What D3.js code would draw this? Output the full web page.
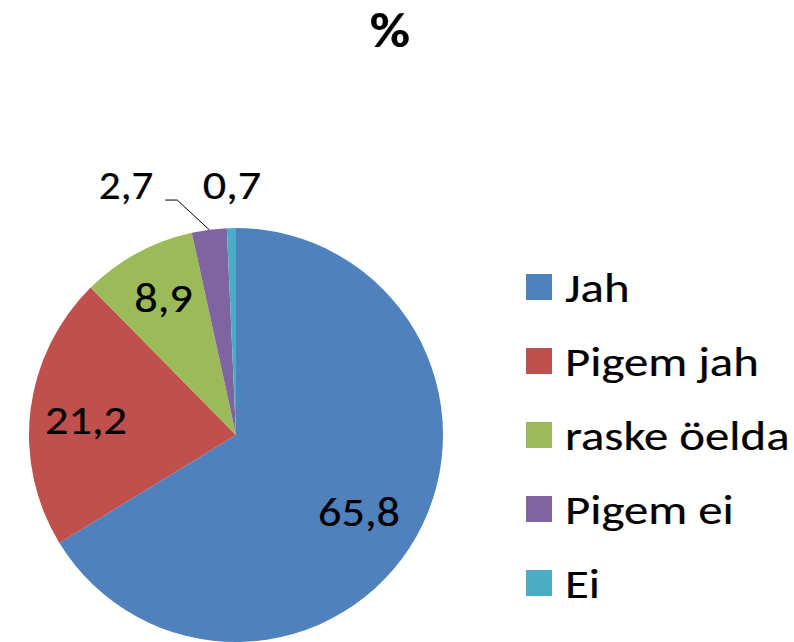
<!DOCTYPE html>
<html>
<head>
<meta charset="utf-8">
<script src="https://cdn.jsdelivr.net/npm/d3@7"></script>
<style>
  html, body { margin: 0; padding: 0; background: #fff; }
  svg text { font-family: Carlito, Calibri, Lato, sans-serif; fill: #000; stroke: #000; stroke-width: 0.2px; }
</style>
</head>
<body>
<figure id="pie" style="margin:0"></figure>
<script>
// chart data
const categories = ["Jah", "Pigem jah", "raske öelda", "Pigem ei", "Ei"];
const values = [65.8, 21.2, 8.9, 2.7, 0.7];
const labels = ["65,8", "21,2", "8,9", "2,7", "0,7"];
const colors = ["#4F81BD", "#C0504D", "#9BBB59", "#8064A2", "#4BACC6"];

const width = 794, height = 642;
const cx = 236, cy = 435, radius = 207;
const fontSize = 41;

const svg = d3.select("figure#pie")
    .append("svg")
    .attr("width", width)
    .attr("height", height);

// places a horizontally stretched text at x,y (Calibri is wider than Lato)
function label(parent, x, y, str, anchor, size, stretch) {
    return parent.append("text")
        .attr("transform", "translate(" + x + "," + y + ") scale(" + (stretch || 1.13) + ",1)")
        .attr("text-anchor", anchor || "middle")
        .style("font-size", (size || fontSize) + "px")
        .text(str);
}

// title
label(svg, 390, 47, "%", "middle", 48, 1.15).style("font-weight", "bold");

const color = d3.scaleOrdinal().domain(categories).range(colors);

const pie = d3.pie().sort(null).value(d => d.value);
const data = categories.map((c, i) => ({ name: c, value: values[i], label: labels[i] }));
const arcs = pie(data);

const g = svg.append("g")
    .attr("transform", "translate(" + cx + "," + cy + ")");

const arc = d3.arc().innerRadius(0).outerRadius(radius);

g.selectAll("path.slice")
    .data(arcs)
    .enter()
    .append("path")
    .attr("class", "slice")
    .attr("d", arc)
    .attr("fill", d => color(d.data.name));

// inside labels sit on a ring, small slices go outside
const inner = d3.arc().innerRadius(148).outerRadius(148);
const outer = d3.arc().innerRadius(radius + 42).outerRadius(radius + 42);
const edge = d3.arc().innerRadius(radius).outerRadius(radius);
const nudge = [[-6, 5], [-3, 3], [-2, -7], [0, 0], [0, 0]];

arcs.forEach((d, i) => {
    if (d.data.value > 5) {
        const p = inner.centroid(d);
        label(g, p[0] + nudge[i][0], p[1] + nudge[i][1] + 14, d.data.label);
    }
});

// 0,7 right above its slice
const pEi = outer.centroid(arcs[4]);
const base = pEi[1] + 13;
label(g, pEi[0] + 1.5, base, arcs[4].data.label);

// 2,7 with a leader line
const pEdge = edge.centroid(arcs[3]);
const elbow = [pEdge[0] - 32, base + 1];
g.append("polyline")
    .attr("points", [pEdge, elbow, [elbow[0] - 12, elbow[1]]].map(p => p.join(",")).join(" "))
    .attr("fill", "none")
    .attr("stroke", "#000")
    .attr("stroke-width", 1);
label(g, elbow[0] - 24, base, arcs[3].data.label, "end", fontSize, 1.05);

// legend
const legend = svg.append("g")
    .attr("transform", "translate(526,274)");
const item = legend.selectAll("g.item")
    .data(categories)
    .enter()
    .append("g")
    .attr("class", "item")
    .attr("transform", (d, i) => "translate(0," + i * 74 + ")");
item.append("rect")
    .attr("width", 26)
    .attr("height", 26)
    .attr("fill", d => color(d));
item.each(function (d) {
    label(d3.select(this), 39, 28, d, "start", fontSize, 1.19);
});
</script>
</body>
</html>
